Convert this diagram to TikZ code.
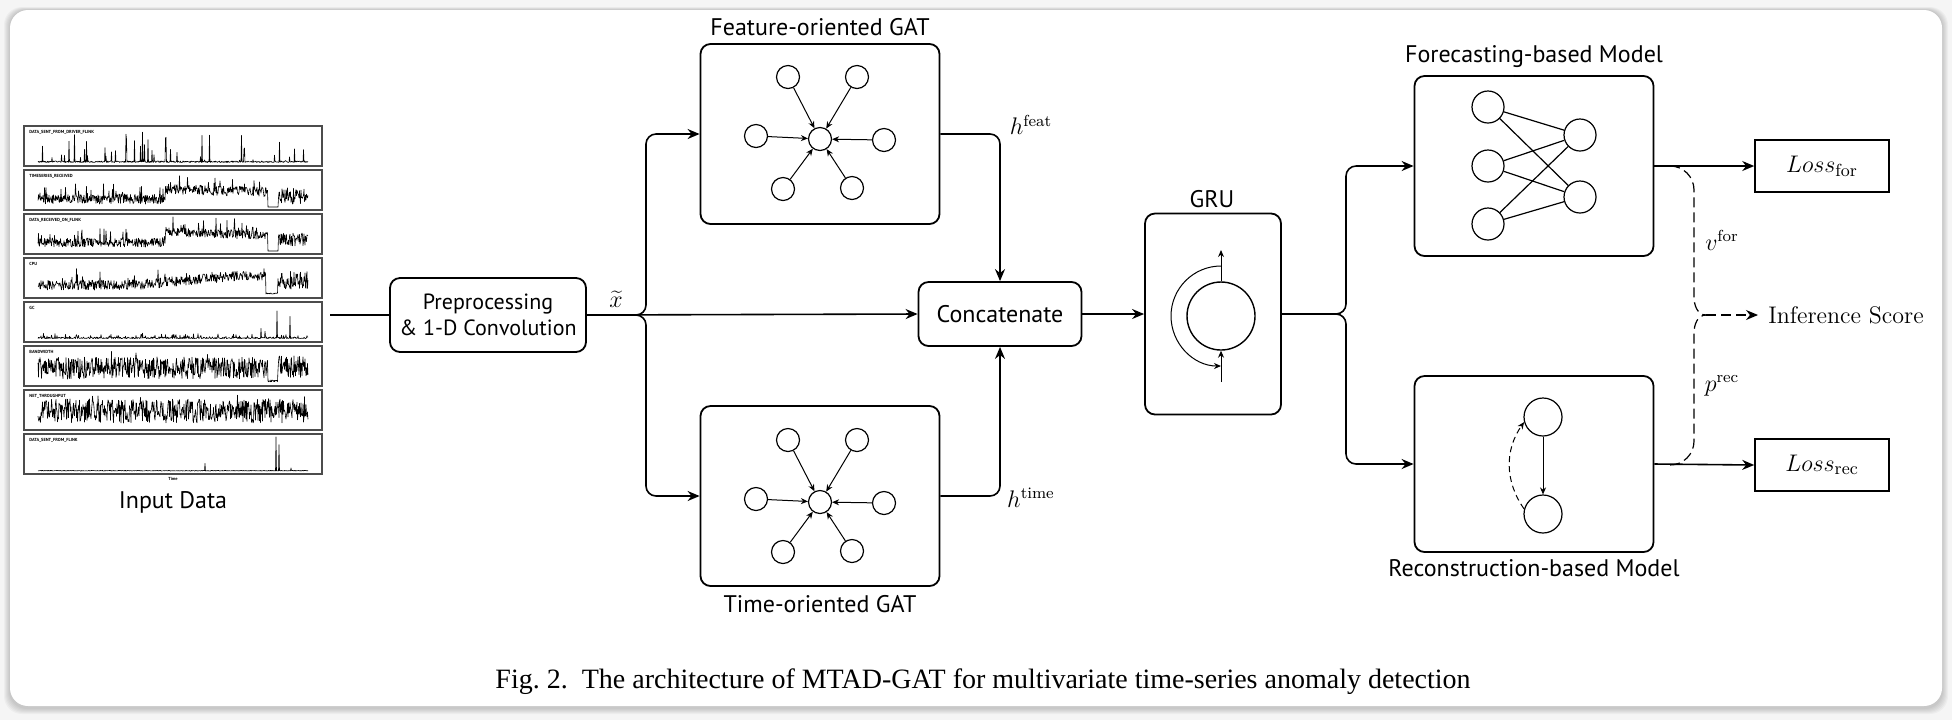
\documentclass[tikz,border=0pt]{standalone}
\usepackage{fontspec}
\newfontfamily\labelfont{PT Sans}
\newfontfamily\capfont{Liberation Serif}
\usetikzlibrary{positioning,arrows.meta}

\tikzset{
  block/.style={draw, rounded corners=5pt, line width=0.9pt, align=center, inner sep=0pt,
    font=\labelfont\fontsize{12}{14}\selectfont},
  lossbox/.style={draw, line width=0.8pt, minimum width=67pt, minimum height=26pt,
    font=\fontsize{12.5}{15}\selectfont},
  blocktitle/.style={font=\labelfont\fontsize{12}{14}\selectfont},
  mathlabel/.style={font=\fontsize{12}{14}\selectfont, inner sep=1pt},
  gnode/.style={draw, circle, line width=0.6pt, minimum size=11.5pt, inner sep=0pt},
  nnode/.style={draw, circle, line width=0.6pt, minimum size=16pt, inner sep=0pt},
  flow/.style={line width=0.8pt, -{Stealth[length=6pt,width=5pt]}},
  edgearrow/.style={line width=0.5pt, -{Stealth[length=3.5pt,width=3pt]}},
  dashline/.style={line width=0.6pt, dash pattern=on 5pt off 2.5pt},
  panel/.style={draw=gray!60!black, line width=0.7pt},
  series/.style={line width=0.3pt, line join=round},
  tinylabel/.style={font=\labelfont\bfseries\fontsize{2.2}{2.6}\selectfont, inner sep=0pt}
}

\begin{document}
\begin{tikzpicture}[x=0.5pt,y=0.5pt]
\useasboundingbox (0,0) rectangle (1952,-720);
% card
\fill[black!4] (0,0) rectangle (1952,-720);
\foreach \s in {1,...,6}
  \fill[black, opacity=0.03, rounded corners=9pt] ({10-\s},{-10+0.5*\s}) rectangle ({1942+\s},{-708-\s});
\fill[white, rounded corners=9pt] (10,-10) rectangle (1942,-706);

% input data panels
\pgfmathsetseed{7}
\foreach \k in {0,...,7}
  \draw[panel] (24,{-126-44*\k}) rectangle (322,{-166-44*\k});
\foreach \k/\name in {0/DATA\_SENT\_FROM\_DRIVER\_FLINK, 1/TIMESERIES\_RECEIVED, 2/DATA\_RECEIVED\_ON\_FLINK,
  3/CPU, 4/GC, 5/BANDWIDTH, 6/NET\_THROUGHPUT, 7/DATA\_SENT\_FROM\_FLINK}
  \node[tinylabel, anchor=west] at (29,{-132-44*\k}) {\name};
\draw[series] plot[domain=38:308, samples=541] (\x, {-163 + 0.5 + 1.5*rnd + (rnd>0.9)*30*rnd^2});
\draw[series] plot[domain=38:308, samples=541] (\x, {-207 + (\x<268)*(3 + (\x>165)*(10 - 0.03*(\x-165)) + 10*rnd + (rnd>0.9)*14*rnd) + (\x>278)*(3+16*rnd)});
\draw[series] plot[domain=38:308, samples=541] (\x, {-251 + (\x<268)*(4 + (\x>165)*(11 - 0.04*(\x-165)) + 9*rnd + (rnd>0.9)*14*rnd) + (\x>278)*(5+13*rnd)});
\draw[series] plot[domain=38:308, samples=541] (\x, {-295 + (\x<266)*(5 + (\x>135)*min(0.09*(\x-135),9) + 10*rnd + (rnd>0.93)*12*rnd) + (\x>=266)*(\x<278)*(1+rnd) + (\x>=278)*(6+18*rnd)});
\draw[series] plot[domain=38:308, samples=541] (\x, {-339 + 0.5 + 1.5*rnd^2 + (rnd>0.85)*4*rnd + (abs(\x-277)<0.5)*27 + (abs(\x-290)<0.5)*22 + (abs(\x-261)<0.5)*9 + (abs(\x-265)<0.5)*7});
\draw[series] plot[domain=38:308, samples=541] (\x, {-383 + (\x<268)*(4 + 22*rnd + (rnd>0.97)*6) + (\x>=268)*(\x<278)*(1+2*rnd) + (\x>=278)*(5+22*rnd) + (abs(\x-265)<0.5)*8});
\draw[series] plot[domain=38:308, samples=541] (\x, {-427 + 4 + 24*rnd + (rnd>0.97)*5});
\draw[series] plot[domain=38:308, samples=541] (\x, {-471 + 0.6*rnd + (abs(\x-276)<0.5)*34 + (abs(\x-279)<0.5)*26 + (abs(\x-205)<0.5)*7 + (abs(\x-291)<0.5)*3});
\node[tinylabel] at (173,-479) {Time};
\node[blocktitle] (inname) at (173,-502) {Input Data};

% blocks
\node[block, minimum width=98pt, minimum height=37pt, font=\labelfont\fontsize{11}{13}\selectfont] (pre) at (488,-315) {Preprocessing\\\& 1-D Convolution};
\node[block, minimum width=119.5pt, minimum height=90pt] (fgat) at (820,-134) {};
\node[blocktitle] (fgatname) at (820,-27) {Feature-oriented GAT};
\node[block, minimum width=119.5pt, minimum height=90pt] (tgat) at (820,-496) {};
\node[blocktitle] (tgatname) at (820,-604) {Time-oriented GAT};
\node[block, minimum width=81.5pt, minimum height=32pt] (concat) at (1000,-314) {Concatenate};
\node[block, minimum width=68pt, minimum height=100.5pt] (gru) at (1213,-314) {};
\node[blocktitle] (gruname) at (1212,-199) {GRU};
\node[block, minimum width=119.5pt, minimum height=90pt] (fore) at (1534,-166) {};
\node[blocktitle] (forename) at (1534,-57) {Forecasting-based Model};
\node[block, minimum width=119.5pt, minimum height=88pt] (recon) at (1534,-464) {};
\node[blocktitle] (reconname) at (1534,-568) {Reconstruction-based Model};
\node[lossbox] (lossf) at (1822,-166) {$Loss_{\mathrm{for}}$};
\node[lossbox] (lossr) at (1822,-465) {$Loss_{\mathrm{rec}}$};
\node[mathlabel, anchor=west, inner sep=5pt] (score) at (1758,-315) {Inference Score};

% labels
\node[mathlabel] (xt) at (616,-299) {$\widetilde{x}$};
\node[mathlabel] (hf) at (1031,-125) {$h^{\mathrm{feat}}$};
\node[mathlabel] (ht) at (1031,-498) {$h^{\mathrm{time}}$};
\node[mathlabel] (vf) at (1722,-240) {$v^{\mathrm{for}}$};
\node[mathlabel] (pr) at (1722,-386) {$p^{\mathrm{rec}}$};

% feature graph
\node[gnode] (f0) at (820,-139) {};
\foreach \i/\px/\py in {1/788/77, 2/857/77, 3/756/136, 4/884/140, 5/783/189, 6/852/188} {
  \node[gnode] (f\i) at (\px,-\py) {};
  \draw[edgearrow] (f\i) -- (f0);
}
% time graph
\node[gnode] (t0) at (820,-502) {};
\foreach \i/\px/\py in {1/788/440, 2/857/440, 3/756/499, 4/884/503, 5/783/552, 6/852/551} {
  \node[gnode] (t\i) at (\px,-\py) {};
  \draw[edgearrow] (t\i) -- (t0);
}

% gru cell
\node[draw, circle, line width=0.7pt, minimum size=34pt, inner sep=0pt] (cell) at (1221,-316) {};
\coordinate (hin) at (1221,-382);
\coordinate (hout) at (1221,-250);
\coordinate (loop) at (1221,-266);
\draw[edgearrow] (hin) -- (cell.south);
\draw[edgearrow] (cell.north) -- (hout);
\draw[edgearrow] (loop) arc[start angle=90, end angle=270, radius=25pt];

% forecasting net
\foreach \i/\py in {1/107, 2/166, 3/224}
  \node[nnode] (a\i) at (1488,-\py) {};
\foreach \j/\py in {1/135, 2/197}
  \node[nnode] (b\j) at (1580,-\py) {};
\foreach \i in {1,2,3}
  \foreach \j in {1,2}
    \draw[line width=0.6pt] (a\i) -- (b\j);

% reconstruction net
\node[draw, circle, line width=0.6pt, minimum size=19pt, inner sep=0pt] (r1) at (1543,-417) {};
\node[draw, circle, line width=0.6pt, minimum size=19pt, inner sep=0pt] (r2) at (1543,-514) {};
\draw[edgearrow] (r1) -- (r2);
\draw[edgearrow, dash pattern=on 3pt off 2pt] (r2.165) to[bend left=35] (r1.195);

% connectors
\coordinate (din) at (330,-315);
\coordinate (xsplit) at (646,-315);
\coordinate (gsplit) at (1346,-314);
\draw[line width=0.8pt] (din) -- (pre.west);
\draw[flow] (pre.east) -- (concat.west);
\draw[flow, rounded corners=5pt] (pre.east) -| (xsplit |- fgat.west) -- (fgat.west);
\draw[flow, rounded corners=5pt] (pre.east) -| (xsplit |- tgat.west) -- (tgat.west);
\draw[flow, rounded corners=5pt] (fgat.east) -| (concat.north);
\draw[flow, rounded corners=5pt] (tgat.east) -| (concat.south);
\draw[flow] (concat.east) -- (gru.west);
\draw[flow, rounded corners=5pt] (gru.east) -| (gsplit |- fore.west) -- (fore.west);
\draw[flow, rounded corners=5pt] (gru.east) -| (gsplit |- recon.west) -- (recon.west);
\draw[flow] (fore.east) -- (lossf.west);
\draw[flow] (recon.east) -- (lossr.west);

% score brace
\coordinate (bf) at (1670,-166);
\coordinate (br) at (1670,-465);
\coordinate (tip) at (1706,-315);
\draw[dashline] (bf) to[out=0,in=90] (1694,-190) -- (1694,-297) to[out=-90,in=180] (tip);
\draw[dashline] (br) to[out=0,in=-90] (1694,-441) -- (1694,-333) to[out=90,in=180] (tip);
\draw[dashline, -{Stealth[length=6pt,width=5pt]}] (tip) -- (score.west);

% caption
\node[font=\capfont\fontsize{14}{16}\selectfont] (caption) at (983,-682)
  {Fig.~2.\enspace The architecture of MTAD-GAT for multivariate time-series anomaly detection};
\end{tikzpicture}
\end{document}
